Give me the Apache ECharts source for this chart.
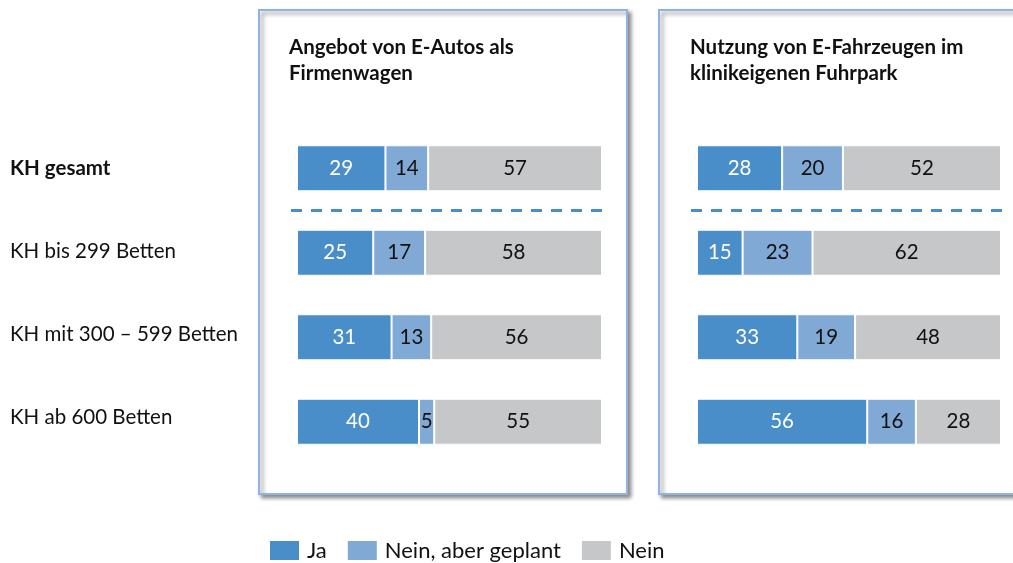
<!DOCTYPE html>
<html>
<head>
<meta charset="utf-8">
<script src="https://cdn.jsdelivr.net/npm/echarts@6/dist/echarts.min.js"></script>
<style>
html,body{margin:0;padding:0;background:#fff;}
#chart{width:1013px;height:563px;}
</style>
</head>
<body>
<div id="chart"></div>
<script>
const categories = ['KH gesamt', 'KH bis 299 Betten', 'KH mit 300 – 599 Betten', 'KH ab 600 Betten'];
const seriesNames = ['Ja', 'Nein, aber geplant', 'Nein'];
const panelTitles = ['Angebot von E-Autos als\nFirmenwagen', 'Nutzung von E-Fahrzeugen im\nklinikeigenen Fuhrpark'];
// Panel 1: Angebot von E-Autos als Firmenwagen
const p1Ja = [29, 25, 31, 40];
const p1Geplant = [14, 17, 13, 5];
const p1Nein = [57, 58, 56, 55];
// Panel 2: Nutzung von E-Fahrzeugen im klinikeigenen Fuhrpark
const p2Ja = [28, 15, 33, 56];
const p2Geplant = [20, 23, 19, 16];
const p2Nein = [52, 62, 48, 28];

const colors = ['#4a8ec9', '#80a9d6', '#c6c7c9'];
const labelColors = ['#ffffff', '#111111', '#111111'];
const FONT = 'Lato, "Noto Sans", sans-serif';

const chart = echarts.init(document.getElementById('chart'));

function mkSeries(name, data, idx, axisIdx) {
  return {
    name: name,
    type: 'bar',
    stack: 'p' + axisIdx,
    xAxisIndex: axisIdx,
    yAxisIndex: axisIdx,
    data: data,
    barWidth: 46,
    itemStyle: { color: colors[idx], borderColor: '#ffffff', borderWidth: 1 },
    emphasis: { disabled: true },
    label: {
      show: true,
      position: 'inside',
      color: labelColors[idx],
      fontFamily: FONT,
      fontSize: 20.5
    }
  };
}

const grids = [
  { left: 297, width: 305, top: 126, height: 338 },
  { left: 697, width: 304, top: 126, height: 338 },
  // label column
  { left: 10, width: 240, top: 126.5, height: 332 }
];

const option = {
  animation: false,
  textStyle: { fontFamily: FONT },
  graphic: [
    { type: 'rect', z: -10, shape: { x: 259, y: 10, width: 368, height: 484 },
      style: { fill: '#fff', stroke: '#92b3dd', lineWidth: 2, shadowBlur: 4, shadowOffsetX: 3, shadowOffsetY: 3, shadowColor: 'rgba(0,0,0,0.45)' } },
    { type: 'rect', z: -10, shape: { x: 659, y: 10, width: 380, height: 484 },
      style: { fill: '#fff', stroke: '#92b3dd', lineWidth: 2, shadowBlur: 4, shadowOffsetX: 3, shadowOffsetY: 3, shadowColor: 'rgba(0,0,0,0.45)' } }
  ],
  title: [
    { text: panelTitles[0], left: 284, top: 29,
      textStyle: { fontFamily: FONT, fontSize: 20.5, fontWeight: 'bold', color: '#111', lineHeight: 26 } },
    { text: panelTitles[1], left: 685, top: 29,
      textStyle: { fontFamily: FONT, fontSize: 20.5, fontWeight: 'bold', color: '#111', lineHeight: 26 } }
  ],
  legend: {
    left: 263, top: 534,
    itemWidth: 31, itemHeight: 21, itemGap: 19,
    icon: 'rect',
    data: seriesNames,
    textStyle: { fontFamily: FONT, fontSize: 22, color: '#111', padding: [0, 0, 0, 2] }
  },
  grid: grids,
  xAxis: [0, 1, 2].map(i => ({
    type: 'value', gridIndex: i, min: 0, max: 100, show: false
  })),
  yAxis: [0, 1, 2].map(i => ({
    type: 'category', gridIndex: i, inverse: true, data: categories,
    axisLine: { show: false }, axisTick: { show: false }, splitLine: { show: false },
    axisLabel: i === 2 ? {
      show: true, inside: true, align: 'left', margin: 0, fontFamily: FONT, fontSize: 20.5, color: '#111',
      formatter: (v, idx) => idx === 0 ? '{b|' + v + '}' : v,
      rich: { b: { fontFamily: FONT, fontSize: 20.5, fontWeight: 'bold', color: '#111' } }
    } : { show: false }
  })),
  series: [
    mkSeries(seriesNames[0], p1Ja, 0, 0),
    mkSeries(seriesNames[1], p1Geplant, 1, 0),
    mkSeries(seriesNames[2], p1Nein, 2, 0),
    mkSeries(seriesNames[0], p2Ja, 0, 1),
    mkSeries(seriesNames[1], p2Geplant, 1, 1),
    mkSeries(seriesNames[2], p2Nein, 2, 1)
  ]
};
chart.setOption(option);

// dashed separators between first and second category, computed via scales
const extra = [];
[0, 1].forEach(i => {
  const y0 = chart.convertToPixel({ yAxisIndex: i }, categories[0]);
  const y1 = chart.convertToPixel({ yAxisIndex: i }, categories[1]);
  const xl = chart.convertToPixel({ xAxisIndex: i }, 0);
  const xr = chart.convertToPixel({ xAxisIndex: i }, 100);
  const y = (y0 + y1) / 2;
  extra.push({ type: 'line', z: 5, shape: { x1: xl - 6, y1: y, x2: xr + 2, y2: y },
    style: { stroke: '#4a8ec9', lineWidth: 3, lineDash: [11, 9] } });
});
chart.setOption({ graphic: option.graphic.concat(extra) });
</script>
</body>
</html>
